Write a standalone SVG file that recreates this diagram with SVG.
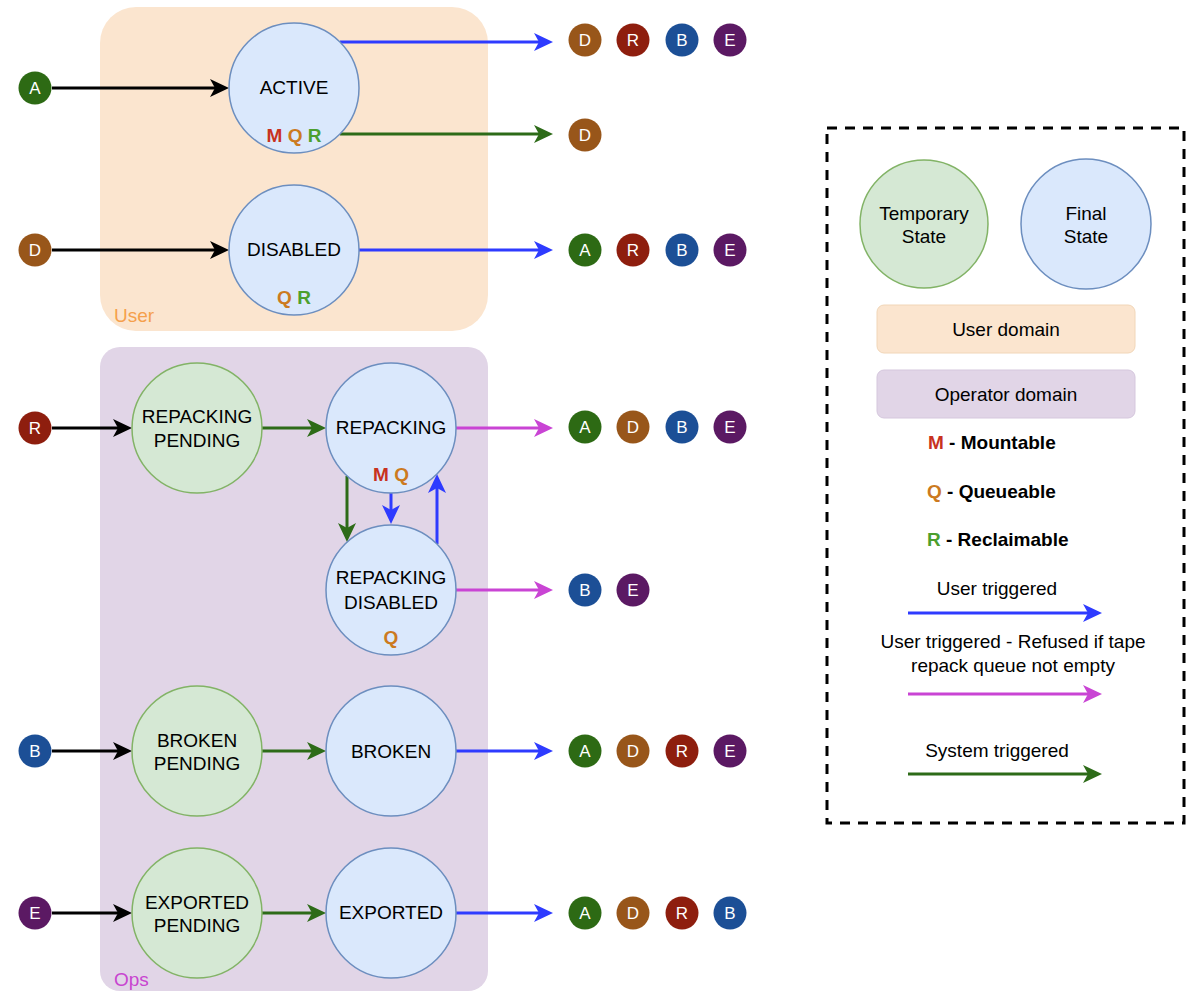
<svg xmlns="http://www.w3.org/2000/svg" width="1191" height="993" viewBox="0 0 1191 993">
<style>
text{font-family:"Liberation Sans",Arial,Helvetica,sans-serif}
.lbl{font-size:19px;fill:#000;text-anchor:middle}
.flag{font-size:19px;font-weight:bold;text-anchor:middle}
.fin{fill:#dae8fc;stroke:#6c8ebf;stroke-width:1.5}
.tmp{fill:#d5e8d4;stroke:#82b366;stroke-width:1.5}
.bt{font-size:17px;fill:#fff;text-anchor:middle}
.cA{fill:#2d6a14}.cD{fill:#98561a}.cR{fill:#8e1e0e}.cB{fill:#1c4f96}.cE{fill:#5b1963}
.m{fill:#c8321e}.q{fill:#cc7a1f}.r{fill:#4c9f2e}
.k{stroke:#000;stroke-width:3;fill:none;marker-end:url(#mk)}
.u{stroke:#2e3bff;stroke-width:3;fill:none;marker-end:url(#mu)}
.p{stroke:#c944d4;stroke-width:3;fill:none;marker-end:url(#mp)}
.s{stroke:#2d6b18;stroke-width:3;fill:none;marker-end:url(#ms)}
.leg{font-size:19px;fill:#000}
</style>
<defs>
<marker id="mk" viewBox="0 0 19 18" refX="9" refY="9" markerWidth="19" markerHeight="18" markerUnits="userSpaceOnUse" orient="auto"><path d="M0,0 L19,9 L0,18 L5,9 Z" fill="#000"/></marker>
<marker id="mu" viewBox="0 0 19 18" refX="9" refY="9" markerWidth="19" markerHeight="18" markerUnits="userSpaceOnUse" orient="auto"><path d="M0,0 L19,9 L0,18 L5,9 Z" fill="#2e3bff"/></marker>
<marker id="mp" viewBox="0 0 19 18" refX="9" refY="9" markerWidth="19" markerHeight="18" markerUnits="userSpaceOnUse" orient="auto"><path d="M0,0 L19,9 L0,18 L5,9 Z" fill="#c944d4"/></marker>
<marker id="ms" viewBox="0 0 19 18" refX="9" refY="9" markerWidth="19" markerHeight="18" markerUnits="userSpaceOnUse" orient="auto"><path d="M0,0 L19,9 L0,18 L5,9 Z" fill="#2d6b18"/></marker>
</defs>
<rect width="1191" height="993" fill="#fff"/>

<g id="user-domain">
<rect x="100" y="7" width="388" height="324" rx="36" fill="#fbe5cf"/>
<text x="114" y="322" style="font-size:19px;fill:#f5a04c">User</text>
</g>
<g id="ops-domain">
<rect x="100" y="347" width="388" height="644" rx="20" fill="#e1d5e7"/>
<text x="114" y="986" style="font-size:19px;fill:#c845d0">Ops</text>
</g>

<g id="connectors">
<line class="k" x1="52" y1="88" x2="219" y2="88"/>
<line class="k" x1="52" y1="250" x2="219" y2="250"/>
<line class="u" x1="340" y1="42" x2="543" y2="42"/>
<line class="s" x1="340" y1="134" x2="543" y2="134"/>
<line class="u" x1="359" y1="250" x2="543" y2="250"/>
<line class="k" x1="52" y1="428" x2="122" y2="428"/>
<line class="s" x1="262" y1="428" x2="316" y2="428"/>
<line class="p" x1="456" y1="428" x2="543" y2="428"/>
<line class="s" x1="347" y1="476" x2="347" y2="532"/>
<line class="u" x1="391" y1="493" x2="391" y2="514"/>
<line class="u" x1="437" y1="544" x2="437" y2="484"/>
<line class="p" x1="456" y1="590" x2="543" y2="590"/>
<line class="k" x1="52" y1="751" x2="122" y2="751"/>
<line class="s" x1="262" y1="751" x2="316" y2="751"/>
<line class="u" x1="456" y1="751" x2="543" y2="751"/>
<line class="k" x1="52" y1="913" x2="122" y2="913"/>
<line class="s" x1="262" y1="913" x2="316" y2="913"/>
<line class="u" x1="456" y1="913" x2="543" y2="913"/>
</g>

<g id="active">
<circle class="fin" cx="294" cy="88" r="65"/>
<text class="lbl" x="294" y="94">ACTIVE</text>
<text class="flag" x="294" y="142"><tspan class="m">M</tspan> <tspan class="q">Q</tspan> <tspan class="r">R</tspan></text>
</g>
<g id="disabled">
<circle class="fin" cx="294" cy="250" r="65"/>
<text class="lbl" x="294" y="256">DISABLED</text>
<text class="flag" x="294" y="304"><tspan class="q">Q</tspan> <tspan class="r">R</tspan></text>
</g>
<g id="repacking-pending">
<circle class="tmp" cx="197" cy="428" r="65"/>
<text class="lbl" x="197" y="423">REPACKING</text>
<text class="lbl" x="197" y="447">PENDING</text>
</g>
<g id="repacking">
<circle class="fin" cx="391" cy="428" r="65"/>
<text class="lbl" x="391" y="434">REPACKING</text>
<text class="flag" x="391" y="481"><tspan class="m">M</tspan> <tspan class="q">Q</tspan></text>
</g>
<g id="repacking-disabled">
<circle class="fin" cx="391" cy="590" r="65"/>
<text class="lbl" x="391" y="584">REPACKING</text>
<text class="lbl" x="391" y="609">DISABLED</text>
<text class="flag" x="391" y="644"><tspan class="q">Q</tspan></text>
</g>
<g id="broken-pending">
<circle class="tmp" cx="197" cy="751" r="65"/>
<text class="lbl" x="197" y="747">BROKEN</text>
<text class="lbl" x="197" y="770">PENDING</text>
</g>
<g id="broken">
<circle class="fin" cx="391" cy="751" r="65"/>
<text class="lbl" x="391" y="758">BROKEN</text>
</g>
<g id="exported-pending">
<circle class="tmp" cx="197" cy="913" r="65"/>
<text class="lbl" x="197" y="909">EXPORTED</text>
<text class="lbl" x="197" y="932">PENDING</text>
</g>
<g id="exported">
<circle class="fin" cx="391" cy="913" r="65"/>
<text class="lbl" x="391" y="919">EXPORTED</text>
</g>

<g id="in-A"><circle class="cA" cx="35" cy="88" r="16.5"/><text class="bt" x="35" y="94">A</text></g>
<g id="in-D"><circle class="cD" cx="35" cy="250" r="16.5"/><text class="bt" x="35" y="256">D</text></g>
<g id="in-R"><circle class="cR" cx="35" cy="428" r="16.5"/><text class="bt" x="35" y="434">R</text></g>
<g id="in-B"><circle class="cB" cx="35" cy="751" r="16.5"/><text class="bt" x="35" y="757">B</text></g>
<g id="in-E"><circle class="cE" cx="35" cy="913" r="16.5"/><text class="bt" x="35" y="919">E</text></g>

<g id="out-active-user">
<circle class="cD" cx="585" cy="40" r="16.5"/><text class="bt" x="585" y="46">D</text>
<circle class="cR" cx="633" cy="40" r="16.5"/><text class="bt" x="633" y="46">R</text>
<circle class="cB" cx="682" cy="40" r="16.5"/><text class="bt" x="682" y="46">B</text>
<circle class="cE" cx="730" cy="40" r="16.5"/><text class="bt" x="730" y="46">E</text>
</g>
<g id="out-active-system">
<circle class="cD" cx="585" cy="135" r="16.5"/><text class="bt" x="585" y="141">D</text>
</g>
<g id="out-disabled">
<circle class="cA" cx="585" cy="250" r="16.5"/><text class="bt" x="585" y="256">A</text>
<circle class="cR" cx="633" cy="250" r="16.5"/><text class="bt" x="633" y="256">R</text>
<circle class="cB" cx="682" cy="250" r="16.5"/><text class="bt" x="682" y="256">B</text>
<circle class="cE" cx="730" cy="250" r="16.5"/><text class="bt" x="730" y="256">E</text>
</g>
<g id="out-repacking">
<circle class="cA" cx="585" cy="427" r="16.5"/><text class="bt" x="585" y="433">A</text>
<circle class="cD" cx="633" cy="427" r="16.5"/><text class="bt" x="633" y="433">D</text>
<circle class="cB" cx="682" cy="427" r="16.5"/><text class="bt" x="682" y="433">B</text>
<circle class="cE" cx="730" cy="427" r="16.5"/><text class="bt" x="730" y="433">E</text>
</g>
<g id="out-repacking-disabled">
<circle class="cB" cx="585" cy="590" r="16.5"/><text class="bt" x="585" y="596">B</text>
<circle class="cE" cx="633" cy="590" r="16.5"/><text class="bt" x="633" y="596">E</text>
</g>
<g id="out-broken">
<circle class="cA" cx="585" cy="751" r="16.5"/><text class="bt" x="585" y="757">A</text>
<circle class="cD" cx="633" cy="751" r="16.5"/><text class="bt" x="633" y="757">D</text>
<circle class="cR" cx="682" cy="751" r="16.5"/><text class="bt" x="682" y="757">R</text>
<circle class="cE" cx="730" cy="751" r="16.5"/><text class="bt" x="730" y="757">E</text>
</g>
<g id="out-exported">
<circle class="cA" cx="585" cy="913" r="16.5"/><text class="bt" x="585" y="919">A</text>
<circle class="cD" cx="633" cy="913" r="16.5"/><text class="bt" x="633" y="919">D</text>
<circle class="cR" cx="682" cy="913" r="16.5"/><text class="bt" x="682" y="919">R</text>
<circle class="cB" cx="730" cy="913" r="16.5"/><text class="bt" x="730" y="919">B</text>
</g>

<g id="legend">
<rect x="827" y="128" width="357" height="695" fill="none" stroke="#000" stroke-width="3" stroke-dasharray="10 8"/>
<circle class="tmp" cx="924" cy="224" r="64"/>
<text class="lbl" x="924" y="220">Temporary</text>
<text class="lbl" x="924" y="243">State</text>
<circle class="fin" cx="1086" cy="224" r="65"/>
<text class="lbl" x="1086" y="220">Final</text>
<text class="lbl" x="1086" y="243">State</text>
<rect x="877" y="305" width="258" height="48" rx="7" fill="#fbe5cf" stroke="#f1d6b8" stroke-width="1"/>
<text class="lbl" x="1006" y="336">User domain</text>
<rect x="877" y="370" width="258" height="48" rx="7" fill="#e1d5e7" stroke="#d5c7dd" stroke-width="1"/>
<text class="lbl" x="1006" y="401">Operator domain</text>
<text class="leg" x="928" y="449" font-weight="bold"><tspan class="m">M</tspan> - Mountable</text>
<text class="leg" x="927" y="498" font-weight="bold"><tspan class="q">Q</tspan> - Queueable</text>
<text class="leg" x="927" y="546" font-weight="bold"><tspan class="r">R</tspan> - Reclaimable</text>
<text class="lbl" x="997" y="595">User triggered</text>
<line class="u" x1="908" y1="613" x2="1092" y2="613"/>
<text class="lbl" x="1013" y="648">User triggered - Refused if tape</text>
<text class="lbl" x="1013" y="672">repack queue not empty</text>
<line class="p" x1="908" y1="694" x2="1092" y2="694"/>
<text class="lbl" x="997" y="757">System triggered</text>
<line class="s" x1="908" y1="774" x2="1092" y2="774"/>
</g>
</svg>
